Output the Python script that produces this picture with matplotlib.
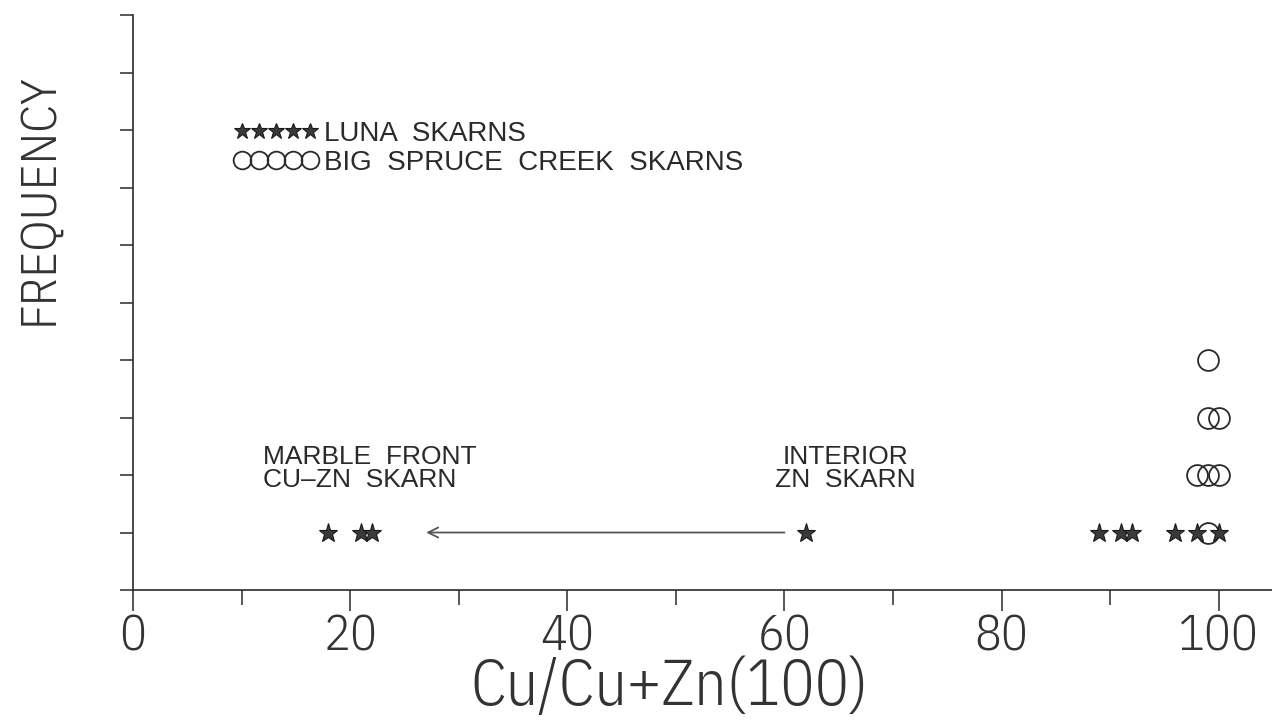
import matplotlib
matplotlib.use("Agg")
import matplotlib.pyplot as plt
import numpy as np

# Luna skarns (stars) and Big Spruce Creek skarns (circles)
luna_x = [18, 21, 22, 62, 89, 91, 92, 96, 98, 100]
luna_freq = [1, 1, 1, 1, 1, 1, 1, 1, 1, 1]
bsc_x = [99, 98, 99, 100, 99, 100, 99]
bsc_freq = [1, 2, 2, 2, 3, 3, 4]

x_major = [0, 20, 40, 60, 80, 100]
x_minor = [10, 30, 50, 70, 90]
y_ticks = list(range(0, 11))

narrow = ['IBM Plex Sans Condensed', 'DejaVu Sans']
plain = ['Liberation Sans', 'DejaVu Sans']
ink = '#2a2a2a'

fig = plt.figure(figsize=(12.72, 7.21), dpi=100)
ax = fig.add_axes([133 / 1272, 131 / 721, 1139 / 1272, 575 / 721])

ax.plot(luna_x, luna_freq, linestyle='none', marker='*', markersize=14,
        markerfacecolor='#3a3a3a', markeredgecolor='#1a1a1a', markeredgewidth=0.8,
        label='LUNA  SKARNS', zorder=3)
ax.plot(bsc_x, bsc_freq, linestyle='none', marker='o', markersize=15,
        markerfacecolor='none', markeredgecolor='#2a2a2a', markeredgewidth=1.3,
        label='BIG  SPRUCE  CREEK  SKARNS', zorder=2)

ax.annotate('', xy=(27, 1), xytext=(60, 1),
            arrowprops=dict(arrowstyle='->', color='#555555', lw=1.3,
                            mutation_scale=18, shrinkA=0, shrinkB=0))

ax.text(12, 2.12, 'MARBLE  FRONT\nCU\u2013ZN  SKARN', ha='left', va='center',
        fontsize=19, family=plain, color=ink, linespacing=0.95)
ax.text(65.6, 2.12, 'INTERIOR\nZN  SKARN', ha='center', va='center',
        fontsize=19, family=plain, color=ink, linespacing=0.95)

ax.set_xlim(0, 104.9)
ax.set_ylim(0, 10)
ax.set_xticks(x_major)
ax.set_xticks(x_minor, minor=True)
ax.set_xticklabels([str(v) for v in x_major], fontsize=36, family=narrow,
                   fontweight=300, color='#333333')
ax.set_yticks(y_ticks)
ax.set_yticklabels([])
ax.tick_params(axis='x', which='major', direction='out', length=15, width=1.1, color=ink, pad=2)
ax.tick_params(axis='x', which='minor', direction='out', length=11, width=1.1, color=ink)
ax.tick_params(axis='y', direction='out', length=9.5, width=1.1, color=ink)

for side in ['top', 'right']:
    ax.spines[side].set_visible(False)
for side in ['left', 'bottom']:
    ax.spines[side].set_linewidth(1.2)
    ax.spines[side].set_color(ink)

ax.set_xlabel('Cu/Cu+Zn(100)', fontsize=46, family=narrow, fontweight=300,
              color='#333333', va='center')
ax.xaxis.set_label_coords(0.471, -0.17)
ax.set_ylabel('FREQUENCY', fontsize=36, family=narrow, fontweight=300,
              color='#333333', va='center')
ax.yaxis.set_label_coords(-0.083, 0.68)

leg = ax.legend(loc='upper left', bbox_to_anchor=(0.0764, 0.84), frameon=False,
                numpoints=5, markerscale=0.85, handlelength=3.05, handletextpad=0.2,
                labelspacing=0.1, borderpad=0, prop={'family': plain, 'size': 20})
for t in leg.get_texts():
    t.set_color(ink)

fig.savefig('out.png', dpi=100, facecolor='white')
